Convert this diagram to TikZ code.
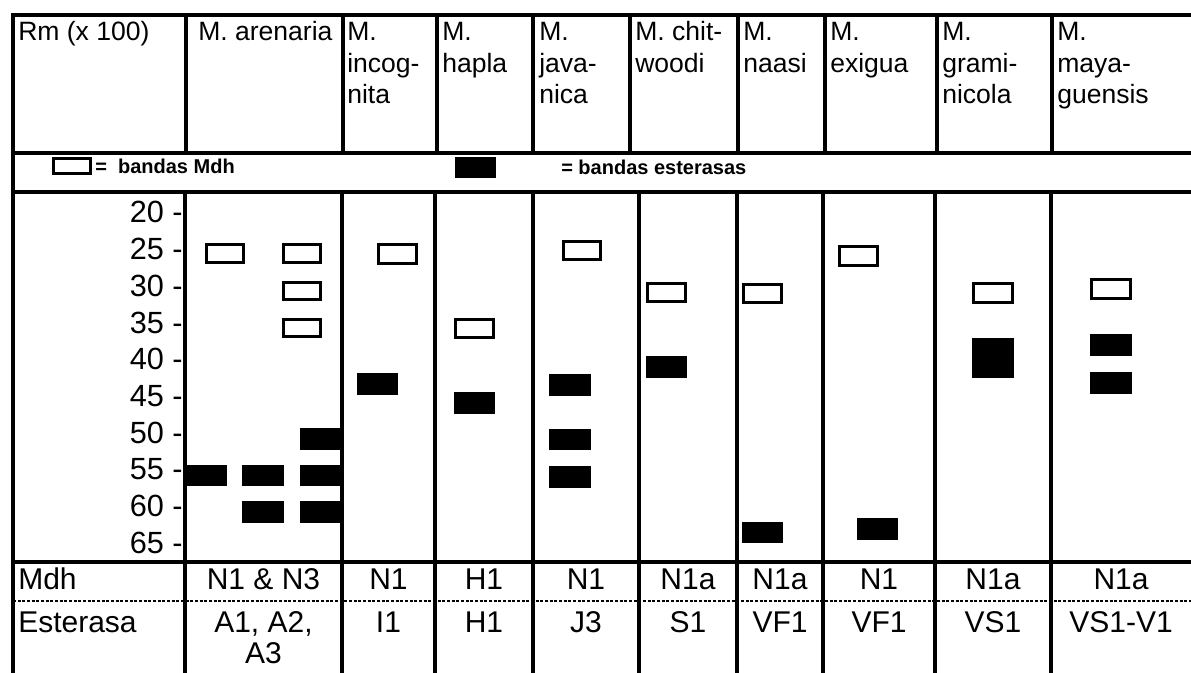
\documentclass[tikz,border=0pt]{standalone}
\usepackage{fontspec}
\setmainfont{Liberation Sans}

% open band (Mdh) and filled band (esterase), given by their outer corners
\newcommand\openband[4]{\draw[mdhbox] (#1+1.5,#2+1.5) rectangle (#3-1.5,#4-1.5);}
\newcommand\fullband[4]{\fill[estbox] (#1,#2) rectangle (#3,#4);}

\begin{document}
\begin{tikzpicture}[x=0.75pt, y=-0.75pt,
  rule/.style={line width=2.4pt, line cap=rect},
  dotrule/.style={line width=0.9pt, dash pattern=on 2.2pt off 1.3pt},
  hdr/.style={anchor=base west, inner sep=0pt, font=\fontsize{19.9}{23.6}\selectfont},
  val/.style={anchor=base, inner sep=0pt, font=\fontsize{22.5}{27}\selectfont},
  rowlbl/.style={anchor=base west, inner sep=0pt, font=\fontsize{22.5}{27}\selectfont},
  axislbl/.style={anchor=base east, inner sep=0pt, font=\fontsize{23}{27}\selectfont},
  legendtxt/.style={anchor=base west, inner sep=0pt, font=\bfseries\fontsize{15}{18}\selectfont},
  mdhbox/.style={draw=black, line width=2.2pt, fill=white},
  estbox/.style={fill=black}]

\useasboundingbox (0,0) rectangle (1191,673);

% ---- table frame ----
\draw[rule] (13,15) -- (1191,15);
\draw[rule] (13,15) -- (13,673);
\draw[rule] (13,153) -- (1191,153);
\draw[rule] (13,192) -- (1191,192);
\draw[rule] (13,562) -- (1191,562);
\draw[dotrule] (13,601) -- (1191,601);

% header column dividers
\foreach \x in {186,343,437,533,630,738,825,937,1052}
  \draw[rule] (\x,15) -- (\x,153);
% body column dividers
\foreach \x in {185,342,435,533,639,737,823,935,1051}
  \draw[rule] (\x,192) -- (\x,673);

% ---- header ----
\node[hdr] (h1)  at (18,41)   {Rm (x 100)};
\node[hdr] (h2)  at (198,41)  {M. arenaria};
\node[hdr] (h3a) at (347,41)  {M.};
\node[hdr] (h3b) at (347,73)  {incog-};
\node[hdr] (h3c) at (347,104) {nita};
\node[hdr] (h4a) at (442,41)  {M.};
\node[hdr] (h4b) at (442,73)  {hapla};
\node[hdr] (h5a) at (539,41)  {M.};
\node[hdr] (h5b) at (539,73)  {java-};
\node[hdr] (h5c) at (539,104) {nica};
\node[hdr] (h6a) at (635,41)  {M. chit-};
\node[hdr] (h6b) at (635,73)  {woodi};
\node[hdr] (h7a) at (743,41)  {M.};
\node[hdr] (h7b) at (743,73)  {naasi};
\node[hdr] (h8a) at (830,41)  {M.};
\node[hdr] (h8b) at (830,73)  {exigua};
\node[hdr] (h9a) at (942,41)  {M.};
\node[hdr] (h9b) at (942,73)  {grami-};
\node[hdr] (h9c) at (942,104) {nicola};
\node[hdr] (h10a) at (1057,41)  {M.};
\node[hdr] (h10b) at (1057,73)  {maya-};
\node[hdr] (h10c) at (1057,104) {guensis};

% ---- legend ----
\openband{52}{157}{92}{175}
\node[legendtxt] (legmdh) at (95,174) {=\ \ bandas Mdh};
\fullband{455}{157}{496}{178}
\node[legendtxt] (legest) at (561,175) {= bandas esterasas};

% ---- Rm scale: one step of 5 units every 36.67 px ----
\foreach \v [count=\i] in {20,25,...,65}
  \node[axislbl] (ax\i) at (183,{223+(\v-20)/5*36.67}) {\v\ -};

% ---- bands ----
% M. arenaria
\openband{205}{243}{245}{264}
\openband{282}{243}{322}{264}
\openband{282}{281}{322}{301}
\openband{282}{318}{322}{338}
\fullband{187}{465}{227}{486}
\fullband{242}{465}{284}{486}
\fullband{242}{501}{284}{523}
\fullband{300}{428}{343}{450}
\fullband{300}{465}{343}{486}
\fullband{300}{501}{343}{523}
% M. incognita
\openband{377}{243}{418}{265}
\fullband{357}{373}{398}{395}
% M. hapla
\openband{454}{318}{495}{339}
\fullband{454}{392}{495}{414}
% M. javanica
\openband{562}{240}{602}{261}
\fullband{549}{374}{591}{396}
\fullband{549}{429}{591}{450}
\fullband{549}{466}{591}{488}
% M. chitwoodi
\openband{646}{282}{687}{303}
\fullband{646}{356}{687}{378}
% M. naasi
\openband{742}{283}{783}{304}
\fullband{742}{522}{783}{543}
% M. exigua
\openband{838}{245}{879}{267}
\fullband{857}{518}{898}{540}
% M. graminicola
\openband{972}{282}{1014}{304}
\fullband{972}{338}{1014}{378}
% M. mayaguensis
\openband{1090}{278}{1132}{300}
\fullband{1090}{334}{1132}{356}
\fullband{1090}{372}{1132}{394}

% ---- phenotype rows ----
\node[rowlbl] (mdh) at (18,589) {Mdh};
\node[rowlbl] (est) at (18,632) {Esterasa};

\node[val] (m2)  at (263.5,589) {N1 \& N3};
\node[val] (m3)  at (388.5,589) {N1};
\node[val] (m4)  at (484,589)   {H1};
\node[val] (m5)  at (586,589)   {N1};
\node[val] (m6)  at (688,589)   {N1a};
\node[val] (m7)  at (780,589)   {N1a};
\node[val] (m8)  at (879,589)   {N1};
\node[val] (m9)  at (993,589)   {N1a};
\node[val] (m10) at (1121,589)  {N1a};

\node[val] (e2a) at (263.5,632) {A1, A2,};
\node[val] (e2b) at (263.5,663) {A3};
\node[val] (e3)  at (388.5,632) {I1};
\node[val] (e4)  at (484,632)   {H1};
\node[val] (e5)  at (586,632)   {J3};
\node[val] (e6)  at (688,632)   {S1};
\node[val] (e7)  at (780,632)   {VF1};
\node[val] (e8)  at (879,632)   {VF1};
\node[val] (e9)  at (993,632)   {VS1};
\node[val] (e10) at (1121,632)  {VS1-V1};

\end{tikzpicture}
\end{document}
